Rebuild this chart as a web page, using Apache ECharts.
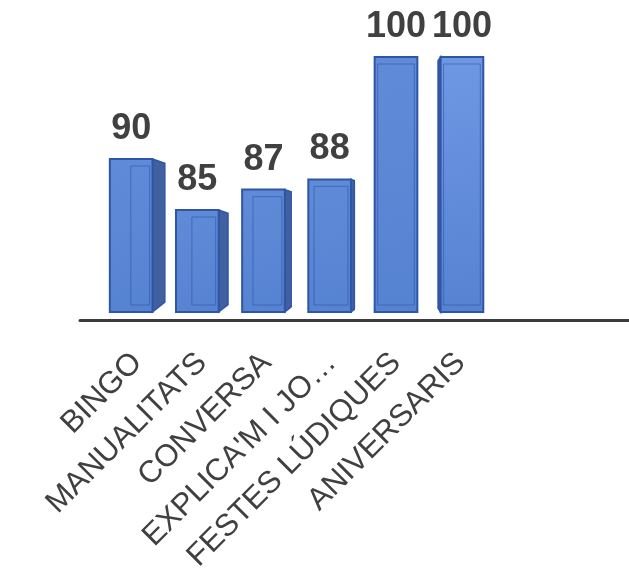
<!DOCTYPE html>
<html><head><meta charset="utf-8">
<script src="https://cdn.jsdelivr.net/npm/echarts@6/dist/echarts.min.js"></script>
<style>html,body{margin:0;padding:0;background:#fff}#c{width:629px;height:568px}</style>
</head><body><div id="c"></div>
<script>
const categories = ['BINGO', 'MANUALITATS', 'CONVERSA', "EXPLICA'M I JO…", 'FESTES LÚDIQUES', 'ANIVERSARIS'];
const values = [90, 85, 87, 88, 100, 100];
const axisMin = 75, axisMax = 100;

const chart = echarts.init(document.getElementById('c'));
const VANTAGE_X = 405;

function renderBox(params, api) {
  const i = api.value(0), v = api.value(1);
  const top = api.coord([i, v]);
  const base = api.coord([i, axisMin]);
  const band = api.size([1, 0])[0];
  const fw = band * 0.66;
  const cx = top[0];
  let s = (VANTAGE_X - cx) * 0.046;
  if (Math.abs(s) < 1.5) s = 0;
  const a = Math.abs(s);
  const x0 = cx - (fw + a) / 2, x1 = cx + (fw + a) / 2;
  let fx0, fx1;
  if (s >= 0) { fx0 = x0; fx1 = x0 + fw; } else { fx0 = x1 - fw; fx1 = x1; }
  const yT = top[1], yB = base[1];
  const edge = '#2e56a6';
  const children = [];
  if (s > 0) {
    children.push({type: 'polygon', shape: {points: [[fx1, yT], [x1, yT + a * 0.35], [x1, yB - a * 0.8], [fx1, yB]]},
      style: {fill: '#41609f', stroke: edge, lineWidth: 1.5}});
  } else if (s < 0) {
    children.push({type: 'polygon', shape: {points: [[fx0, yT], [x0, yT + a * 1.5], [x0, yB - a * 1.5], [fx0, yB]]},
      style: {fill: '#3a5698', stroke: edge, lineWidth: 1.5}});
  }
  children.push({type: 'rect', shape: {x: fx0, y: yT, width: fx1 - fx0, height: yB - yT},
    style: {fill: new echarts.graphic.LinearGradient(0, 0, 1, 1, [
      {offset: 0, color: s < 0 ? '#6f98e3' : '#5f8bd8'},
      {offset: 1, color: '#5682d2'}]), stroke: null}});
  const bx0 = s > 0 ? fx0 + a * 1.7 : fx0 + 3;
  const bx1 = fx1 - 3;
  children.push({type: 'rect', shape: {x: bx0, y: yT + 7, width: Math.max(0, bx1 - bx0), height: yB - yT - 14},
    style: {fill: null, stroke: 'rgba(45,80,160,0.55)', lineWidth: 1}});
  children.push({type: 'rect', shape: {x: fx0, y: yT, width: fx1 - fx0, height: yB - yT},
    style: {fill: null, stroke: edge, lineWidth: 2}});
  children.push({type: 'text', x: (fx0 + fx1) / 2, y: yT - 12,
    style: {text: String(v), align: 'center', verticalAlign: 'bottom',
      font: 'bold 36px "Liberation Sans", Arial, sans-serif', fill: '#404040'}});
  return {type: 'group', children: children};
}

chart.setOption({
  animation: false,
  backgroundColor: '#ffffff',
  grid: [
    {left: 105, width: 388, top: 57, height: 255, outerBoundsMode: 'none', containLabel: false},
    {left: 80, right: 0, top: 57, height: 263, outerBoundsMode: 'none', containLabel: false}
  ],
  xAxis: [
    {type: 'category', gridIndex: 0, data: categories,
      axisLine: {show: false}, axisTick: {show: false},
      axisLabel: {interval: 0, rotate: 45, margin: 46, color: '#404040',
        fontSize: 31, fontFamily: '"Liberation Sans", Arial, sans-serif'}},
    {type: 'category', gridIndex: 1, data: [''],
      axisLine: {show: true, lineStyle: {color: '#3c3c3c', width: 3}},
      axisTick: {show: false}, axisLabel: {show: false}}
  ],
  yAxis: [
    {type: 'value', gridIndex: 0, min: axisMin, max: axisMax, show: false},
    {type: 'value', gridIndex: 1, show: false}
  ],
  series: [{
    type: 'custom', xAxisIndex: 0, yAxisIndex: 0,
    data: values.map((v, i) => [i, v]),
    renderItem: renderBox,
    clip: false
  }]
});
</script>
</body></html>
